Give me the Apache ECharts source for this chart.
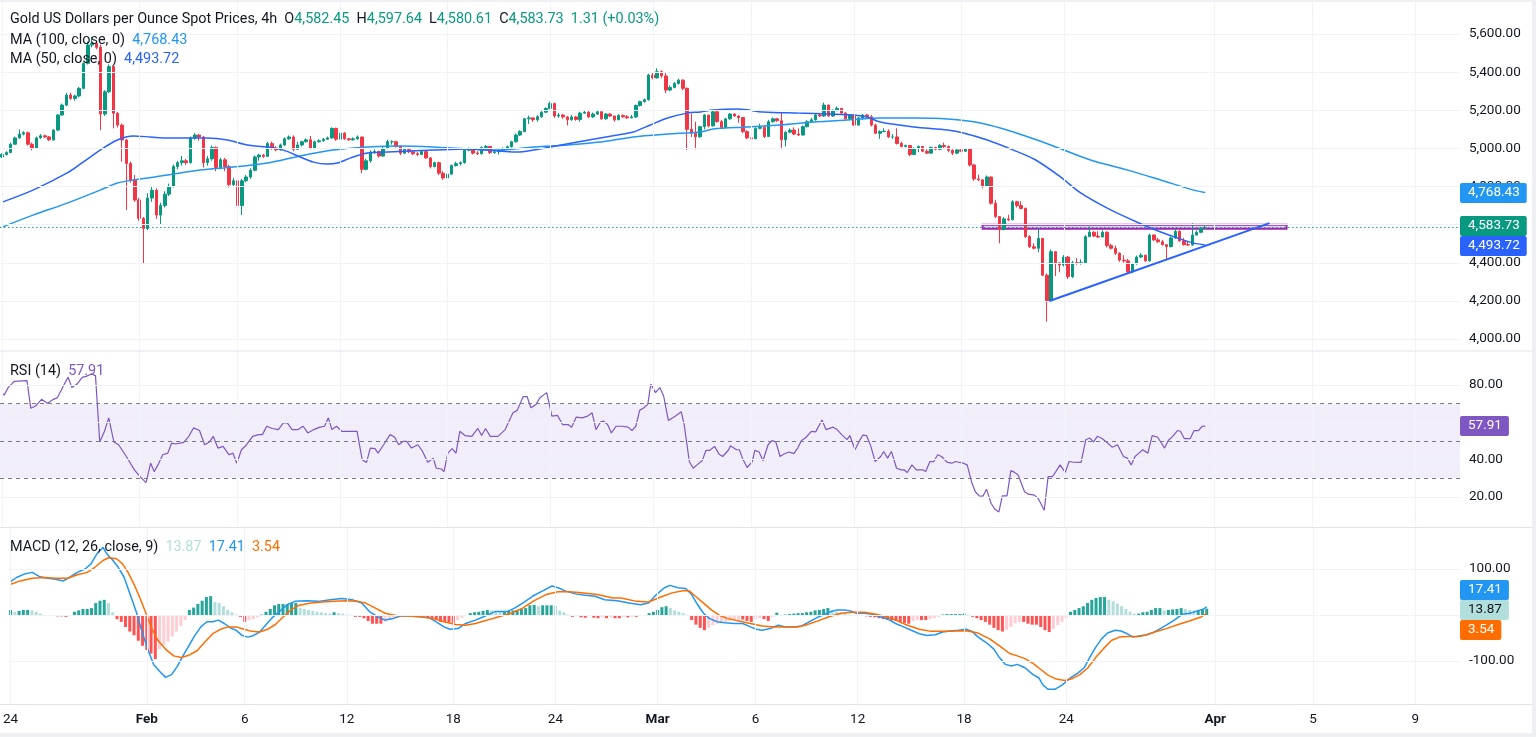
<!DOCTYPE html>
<html><head><meta charset="utf-8">
<script src="https://cdn.jsdelivr.net/npm/echarts@6/dist/echarts.min.js"></script>
<style>html,body{margin:0;padding:0;background:#fff;overflow:hidden}#c{width:1536px;height:737px}</style>
</head><body><div id="c"></div>
<script>
// ---------- DATA ----------
const firstOpen = 4955;
const closes = [
4968,4978,5022,5055,5075,5082,5022,5000,5055,5066,
5060,5045,5096,5175,5227,5280,5262,5275,5315,5446,
5542,5550,5530,5180,5297,5429,5184,5122,5044,4921,
4834,4729,4633,4580,4740,4780,4650,4700,4760,4800,
4905,4925,4935,4925,5055,5070,5060,4925,4945,5005,
4900,4940,4905,4810,4830,4700,4830,4850,4885,4955,
4965,4958,5025,5000,4992,5018,5050,5060,4995,5018,
5035,5045,5000,5035,5040,5048,5055,5105,5048,5080,
5050,5045,5050,5060,4890,4935,4980,4983,4960,5000,
5035,5035,5010,4975,4995,4982,4972,4968,4983,4950,
4905,4925,4870,4845,4865,4910,4920,4925,4990,4995,
4975,4972,5005,5010,4978,4982,4990,5000,5008,5035,
5070,5088,5155,5160,5150,5166,5190,5210,5235,5170,
5175,5165,5150,5165,5152,5185,5190,5165,5180,5192,
5155,5180,5170,5150,5172,5166,5160,5165,5225,5245,
5255,5385,5370,5402,5380,5306,5320,5340,5358,5315,
5100,5080,5061,5114,5175,5118,5192,5140,5110,5155,
5180,5170,5162,5088,5055,5050,5105,5110,5062,5140,
5155,5145,5045,5085,5096,5075,5070,5114,5140,5150,
5175,5170,5227,5170,5198,5210,5185,5155,5175,5122,
5160,5175,5166,5122,5079,5088,5090,5060,5060,5026,
5010,5015,4968,5000,5010,4985,4975,5005,4995,5015,
5010,4990,4975,4992,4985,4998,4913,4840,4835,4800,
4850,4712,4642,4575,4630,4625,4720,4700,4685,4537,
4484,4476,4528,4335,4196,4458,4400,4388,4430,4327,
4400,4397,4400,4537,4560,4540,4535,4560,4490,4476,
4450,4414,4410,4353,4395,4430,4440,4410,4545,4520,
4510,4495,4485,4530,4565,4515,4495,4493,4545,4560,
4582.45,4583.73];
const highs = [
4975,4985,5030,5062,5100,5090,5088,5030,5062,5075,
5072,5065,5100,5180,5235,5290,5292,5282,5322,5450,
5560,5585,5560,5545,5305,5440,5432,5190,5130,5050,
4930,4860,4740,4640,4765,4800,4790,4715,4775,4815,
4915,4935,4960,4945,5062,5080,5075,5065,4960,5015,
5010,4950,4950,4915,4845,4840,4840,4860,4895,4962,
4972,4970,5035,5035,5012,5025,5058,5068,5068,5035,
5040,5052,5065,5040,5048,5055,5062,5110,5108,5088,
5085,5055,5058,5068,5060,4945,4990,4995,4988,5010,
5045,5042,5040,5015,5000,5000,4990,4980,4990,4985,
4955,4930,4930,4880,4870,4915,4930,4932,4998,5005,
4998,4985,5010,5018,5012,4990,4995,5005,5015,5040,
5078,5095,5160,5172,5162,5175,5195,5215,5245,5240,
5185,5180,5170,5175,5170,5192,5200,5200,5188,5200,
5195,5185,5185,5172,5180,5178,5175,5175,5230,5250,
5262,5392,5395,5420,5410,5395,5330,5348,5365,5362,
5320,5184,5140,5118,5180,5172,5198,5195,5150,5160,
5186,5185,5172,5160,5095,5090,5110,5130,5122,5150,
5162,5160,5190,5090,5105,5110,5105,5120,5148,5160,
5180,5180,5240,5230,5205,5220,5198,5190,5180,5178,
5165,5180,5180,5175,5130,5095,5105,5100,5075,5105,
5035,5020,5015,5005,5015,5012,4995,5010,5008,5022,
5030,5015,4995,4995,5000,5002,5000,4918,4862,4838,
4858,4852,4730,4645,4640,4652,4728,4725,4722,4690,
4545,4502,4580,4530,4344,4470,4460,4400,4440,4435,
4410,4425,4418,4545,4590,4565,4565,4570,4565,4500,
4490,4455,4440,4420,4400,4438,4450,4440,4552,4550,
4530,4520,4490,4538,4575,4570,4530,4515,4607,4570,
4585,4597.64];
const lows = [
4950,4962,4975,5018,5050,5068,5015,4990,4998,5050,
5055,5038,5040,5090,5170,5222,5255,5250,5268,5310,
5440,5530,5520,5096,5170,5290,5105,5110,4930,4677,
4820,4720,4620,4397,4572,4720,4630,4600,4690,4750,
4795,4890,4910,4915,4920,5045,5040,4900,4910,4935,
4880,4890,4880,4795,4800,4690,4650,4822,4840,4880,
4935,4950,4955,4992,4985,4988,5012,5045,4985,4995,
5010,5030,4995,4995,5030,5035,5045,5050,5040,5045,
5045,5040,5040,5045,4870,4885,4925,4970,4952,4955,
4995,5020,5005,4965,4970,4975,4965,4960,4965,4945,
4895,4900,4860,4835,4840,4860,4905,4910,4920,4985,
4968,4965,4968,4995,4970,4972,4968,4985,4995,5005,
5030,5065,5085,5128,5140,5140,5160,5185,5205,5160,
5160,5155,5120,5145,5145,5140,5180,5160,5160,5175,
5150,5150,5165,5140,5148,5160,5155,5158,5160,5220,
5240,5250,5362,5365,5370,5290,5300,5315,5335,5305,
4991,5060,4995,5055,5100,5110,5115,5135,5105,5110,
5150,5165,5135,5080,5048,5045,5050,5100,5055,5065,
5135,5140,4995,5010,5080,5070,5065,5068,5110,5138,
5145,5165,5165,5165,5165,5195,5180,5150,5150,5118,
5120,5150,5160,5115,5075,5050,5085,5055,5050,5020,
5005,5005,4960,4965,4980,4980,4970,4972,4990,4990,
5000,4980,4965,4970,4980,4982,4905,4830,4828,4790,
4800,4705,4635,4502,4570,4618,4625,4690,4680,4530,
4478,4470,4455,4330,4091,4196,4330,4350,4380,4315,
4320,4390,4390,4395,4535,4535,4530,4535,4480,4470,
4440,4405,4400,4340,4345,4390,4425,4405,4405,4515,
4505,4490,4414,4480,4525,4510,4490,4488,4490,4545,
4555,4580.61];

// moving averages: [bar, price]
const ma50 = [[0,4718],[7.2,4781],[15.2,4871],[18.9,4928],[22.9,4991],[26.9,5044],[30.6,5065],[34.6,5060],[38.6,5054],[43.2,5054],[47.9,5054],[52.6,5044],[57.2,5018],[61.9,5007],[65.7,4991],[69.6,4955],[72.7,4928],[75.9,4918],[78.3,4923],[81.3,4949],[85.3,4976],[90,4981],[95.3,4986],[100.7,4991],[108.6,4997],[116.4,4986],[120.3,4981],[124.1,4991],[128,5007],[135.7,5039],[143.7,5070],[147.4,5086],[151.4,5123],[155.4,5159],[160,5185],[163.1,5191],[166.1,5201],[171.7,5206],[177.8,5191],[185.7,5185],[193.5,5180],[198.8,5175],[202.1,5164],[205.1,5138],[212.9,5112],[220.8,5096],[224.5,5081],[230.1,5044],[236.2,4991],[241.4,4939],[247.2,4850],[251.9,4766],[258.9,4677],[266.6,4598],[270.6,4561],[274.5,4530],[278.3,4503],[281,4493.72]];
const ma100 = [[0,4587],[7.2,4650],[15.2,4713],[22.9,4781],[26.9,4818],[30.6,4834],[38.6,4860],[46.3,4886],[54,4902],[61.9,4923],[69.6,4960],[77.3,4991],[85.3,5007],[93,5012],[100.7,5007],[108.6,4997],[116.4,4991],[124.1,5007],[132,5018],[139.7,5033],[147.4,5060],[155.4,5075],[163.1,5086],[166.1,5102],[174.1,5112],[181.8,5123],[189.5,5138],[197.4,5149],[205.1,5159],[212.9,5159],[220.8,5154],[228.5,5133],[236.2,5086],[244.9,5018],[254.2,4939],[262.9,4886],[270.6,4834],[278.3,4781],[281,4768.43]];

const rsi = [[0,75.4],[0.5,74.7],[1.4,78.6],[2.8,81.9],[5.8,82.3],[6.7,67.5],[7.8,68.7],[9.2,72.3],[10.6,70.2],[12,72.3],[12.9,73.2],[14.3,79.5],[15.4,84.1],[16.3,78.6],[17.5,80.5],[18.7,84.1],[19.6,84.6],[20.9,85.9],[21.8,85],[22.8,49.5],[23.9,55.2],[24.9,62.4],[26.1,49.5],[27.2,48],[29,41.7],[30.9,34.5],[32.2,30.9],[33.6,27.7],[34.7,38.1],[35.5,33.6],[36.4,37.2],[37.5,42.6],[38.7,43.5],[39.6,48.9],[40.5,48.4],[42.4,49.3],[43.6,52.5],[44.7,57],[46.1,55.6],[47.3,48],[48.4,49.5],[49.3,52.5],[50.4,46.2],[51.6,47.1],[53,42.6],[53.9,43.5],[54.8,38.1],[55.9,45.3],[57.1,48],[58.5,52.5],[59.9,53.4],[60.8,53.4],[61.8,57.9],[63.1,56.7],[64.5,56.1],[65.7,59.7],[66.6,59.7],[67.7,56.1],[69.1,56.1],[70.3,57.9],[71.4,54.3],[72.8,56.1],[74.2,57.4],[75.3,57.9],[76.2,62.4],[77,56.1],[78.1,57.9],[79.3,55.2],[81.1,55.2],[82.9,55.2],[84.1,39.9],[85.1,38.5],[86,46.2],[87.1,45.9],[87.8,43.5],[89.1,48],[90.6,53.4],[91.7,52],[92.6,48],[93.7,49.8],[94.5,49.8],[95.6,46.2],[97.1,48],[98.2,44.4],[99.4,38.6],[100.7,40.8],[101.4,35.4],[102.6,35],[103.2,33.6],[104.1,43.5],[105.1,45.9],[106,43.5],[106.9,55.2],[108.1,52.9],[109.7,52.5],[111.1,56.7],[112,52.9],[112.9,56.7],[114,52.5],[115.8,52.5],[117.5,56.1],[119.3,65.1],[120.3,66.4],[121.7,73.8],[122.6,73.8],[123.5,67.8],[124.7,69.6],[125.6,73.2],[127.2,75.9],[128.4,63.3],[129.7,63.7],[130.9,58.8],[132.2,58.8],[133,57.4],[134.1,62.8],[135.5,62.4],[136.7,63.3],[137.8,65.1],[138.7,56.1],[139.8,60.3],[140.5,60.6],[141.4,58.8],[142.3,54.3],[143.4,57.9],[144.8,57.9],[146.2,57.4],[147.1,55.6],[148,57.9],[148.9,66.4],[149.9,67.8],[150.8,69.6],[151.5,80.5],[152.6,75.9],[153.6,78.6],[154.5,74.1],[155.6,61],[157.2,63.3],[158.6,65.7],[159.3,58.8],[160.5,39],[161.4,35.4],[162.3,37.2],[163.5,39.4],[164.4,45],[165.3,45],[166.4,47.1],[167.4,43],[168.3,41.7],[169.7,45.3],[170.1,47.5],[171.5,45.3],[172.2,45.3],[172.9,40.8],[174,35.8],[175.2,39],[175.8,45],[176.8,44.1],[177.7,39.4],[178.9,48],[179.8,50.2],[180.7,49.5],[181.7,41.7],[182.6,43],[183.8,44.1],[184.9,43.2],[185.8,46.2],[186.7,50.2],[187.6,51.6],[189,55.2],[190,54.9],[191.5,61.2],[192.4,56.1],[194.1,57.4],[195,56.1],[196.1,53.4],[197.3,50.7],[198,52.9],[199.2,45.3],[200.1,49.5],[201,53.1],[201.9,52.9],[202.9,47.1],[203.9,39],[205.2,41.7],[205.9,44.4],[206.8,40.8],[207.7,44.4],[208.9,35.4],[210,34.5],[210.7,34.5],[211.4,33.1],[212.5,37.2],[213.5,34.5],[215.1,34.5],[215.7,33.6],[216.7,39],[217.6,39],[218.5,42.6],[219.4,41.7],[220.8,38.5],[221.8,38.1],[222.7,39],[223.6,38.5],[224.5,38.1],[225.4,37.2],[226.4,28.2],[227.3,22.8],[228.2,20.6],[229.1,20.5],[229.9,24.2],[231,16.5],[231.9,13.4],[232.8,12],[233.6,20.6],[234.7,20.6],[235.6,34.1],[236.5,33.2],[237.3,31.8],[238.8,22.8],[239.7,21.5],[241.1,21],[242,19.2],[243.4,12.9],[244.3,30.9],[245.3,30.9],[245.7,32.2],[247.1,37.2],[248.3,33.2],[249.2,39],[250.3,38.6],[252,38.5],[253.1,50.7],[254,51.6],[254.9,49.5],[255.8,52.5],[256.9,51.3],[258.2,48.9],[259.3,46.6],[260.5,48],[261.9,41.7],[262.8,40.8],[263.7,37.2],[264.6,41.7],[265.5,43.5],[266.4,45.3],[267.6,43.5],[268.6,52.9],[269.9,52],[271.5,46.2],[272.4,50.4],[273.4,52.5],[274.5,55.6],[275.2,55.2],[276.1,51.3],[277.5,51.3],[278.4,55.6],[279.4,55.6],[280.3,57.9],[281,57.91]];

const macd = [[0,72.6],[1.4,81.5],[3.2,88.9],[5.1,92.6],[6.9,83],[8.7,80],[10.6,77.8],[12.4,74.1],[13.8,81.5],[15.7,92.6],[17.5,100],[18.9,111.1],[20.3,133.3],[21.7,146.7],[22.6,133.3],[23.9,120],[25.3,103.7],[26.7,81.5],[28.1,44.4],[29.5,7.4],[30.9,-37],[32.2,-74.1],[33.6,-107.4],[35,-122.2],[36.4,-135.6],[37.8,-129.6],[39.2,-111.1],[40.5,-88.9],[41.9,-66.7],[43.3,-44.4],[44.7,-25.9],[46.1,-14.8],[47.5,-14.8],[48.8,-11.1],[50.2,-18.5],[51.6,-28.1],[53,-33.3],[54.4,-44.4],[55.8,-48.1],[57.1,-44.4],[58.5,-37],[59.9,-22.2],[61.3,-7.4],[63.1,7.4],[65,22.2],[66.8,29.6],[69.6,31.1],[72.3,29.6],[75.1,33.3],[77.9,35.6],[80.2,33.3],[82.5,25.9],[84.3,7.4],[86.2,-3.7],[88,-11.1],[89.9,-7.4],[91.7,-2.2],[93.6,-2.2],[96.3,-3.7],[98.2,-5.2],[100,-14.8],[101.8,-25.9],[103.2,-31.1],[105.1,-29.6],[106.9,-18.5],[109.2,-11.1],[111.1,-3.7],[113.8,7.4],[116.6,7.4],[118.4,14.8],[120.3,25.9],[122.6,40.7],[124.9,51.9],[127.2,63],[128.6,59.3],[130.4,51.9],[132.7,45.9],[135,43],[137.3,40.7],[139.6,33.3],[142.5,31.1],[145.3,25.9],[148,22.2],[149.9,25.9],[151.7,44.4],[153.6,59.3],[154.9,64.4],[156.8,59.3],[158.6,57.8],[160,44.4],[161.4,22.2],[162.8,3.7],[164.1,-7.4],[166,-14.8],[167.8,-17],[170.1,-18.5],[172,-18.5],[173.8,-25.9],[175.2,-31.1],[176.6,-33.3],[178.4,-29.6],[180.3,-22.2],[182.1,-25.9],[183.9,-25.9],[185.8,-23.7],[187.6,-14.8],[189.9,-3.7],[192.3,5.9],[194.1,11.1],[195.9,11.1],[197.3,8.9],[198.7,3.7],[200.6,3.7],[202.4,1.5],[204.2,-3.7],[206.1,-8.9],[207.9,-18.5],[209.8,-25.9],[211.6,-33.3],[213.5,-40.7],[215.3,-44.4],[217.2,-43],[219,-37],[220.8,-34.8],[222.7,-33.3],[224.5,-31.1],[225.9,-35.6],[227.3,-48.1],[229.1,-59.3],[231,-74.1],[232.3,-92.6],[233.7,-107.4],[235.1,-111.1],[236.5,-107.4],[238.3,-114.8],[240.2,-129.6],[241.6,-137],[242.5,-151.9],[243.7,-161.5],[245.3,-161.5],[247.1,-151.9],[248.9,-137],[250.8,-125.9],[252.2,-114.8],[253.5,-92.6],[254.9,-70.4],[256.3,-51.9],[257.7,-39.3],[259.5,-33.3],[260.9,-34.8],[262.3,-40.7],[263.7,-48.1],[265.1,-45.9],[266.9,-43],[268.3,-38.5],[269.7,-31.9],[271.5,-22.2],[273.4,-11.1],[275.2,1.5],[277.1,3.7],[278.9,8.9],[280.3,13.3],[281,17.41]];

const signal = [[0,66.7],[2.3,74.1],[5.1,80],[7.8,81.5],[10.6,80],[13.4,80],[15.7,87.4],[18,92.6],[19.8,103.7],[21.7,118.5],[23,124.4],[24.9,122.2],[26.3,111.1],[27.6,92.6],[29,66.7],[30.4,37],[31.8,3.7],[33.2,-29.6],[34.6,-55.6],[36.4,-74.1],[38.3,-88.9],[40.1,-92.6],[41.9,-87.4],[43.8,-77.8],[45.6,-59.3],[47.5,-40.7],[49.3,-31.1],[51.1,-25.9],[53,-25.9],[54.8,-31.1],[56.7,-35.6],[58.5,-37],[60.4,-31.1],[62.2,-20.7],[64.1,-3.7],[65.9,11.1],[67.7,20.7],[70.5,25.9],[73.3,28.1],[76,29.6],[78.8,31.1],[81.6,29.6],[83.4,25.9],[85.7,14.8],[88,3.7],[90.8,-1.5],[93.6,-2.2],[96.3,-3.7],[99.1,-7.4],[101.8,-14.8],[104.6,-20.7],[106.9,-22.2],[109.2,-18.5],[112,-11.1],[114.7,-3.7],[117.5,3.7],[120.3,14.8],[123,31.1],[125.8,44.4],[128.6,50.4],[131.3,50.4],[134.1,48.1],[137.8,44.4],[141.5,37],[143.4,37],[147.1,29.6],[149.9,28.1],[152.6,38.5],[155.4,48.1],[158.2,53.3],[159.5,51.9],[160.9,40.7],[162.8,25.9],[164.6,11.1],[166.4,0],[168.3,-7.4],[171.1,-13.3],[173.8,-18.5],[176.6,-23.7],[179.4,-25.9],[182.1,-25.9],[184.9,-25.9],[186.7,-22.2],[189.5,-13.3],[192.3,-3.7],[195,3.7],[197.8,5.9],[200.6,5.9],[203.3,1.5],[205.2,-2.2],[207.9,-11.1],[210.7,-22.2],[213.5,-31.1],[216.2,-35.6],[219,-35.6],[221.8,-34.8],[224.5,-34.1],[227.3,-39.3],[230,-51.9],[232.8,-70.4],[234.7,-83.7],[236.5,-88.9],[238.3,-94.8],[240.2,-105.2],[242,-118.5],[243.9,-131.9],[245.7,-139.3],[247.6,-142.2],[249.4,-138.5],[251.2,-129.6],[253.1,-114.8],[254.9,-92.6],[256.8,-72.6],[258.6,-55.6],[260.5,-48.1],[262.3,-46.7],[265.1,-46.7],[266.9,-43],[268.8,-37],[271.5,-29.6],[274.3,-20.7],[277.1,-12.6],[279.8,-3.7],[281,3.54]];

const hist = [
11,7,9,11,11,10,7,3,-1,-2,
-2,-3,-3,-4,-1,7,10,13,13,15,
26,31,33,26,6,-9,-15,-26,-36,-44,
-56,-67,-76,-84,-96,-74,-65,-58,-47,-36,
-24,-11,11,16,24,31,39,41,28,26,
19,11,6,1,-4,-15,-11,-9,-5,1,
7,13,21,24,24,24,26,26,16,13,
11,9,7,6,4,3,6,4,3,1,
-1,-4,-4,-7,-13,-19,-19,-19,-15,-11,
-7,-4,-1,-1,0,-1,-1,-3,-5,-7,
-11,-15,-15,-16,-17,-11,-6,-1,4,6,
7,9,11,10,9,7,7,9,10,11,
13,15,21,22,19,21,21,21,20,10,
6,1,-4,-1,-5,-6,-1,-6,-7,-4,
-7,-5,-7,-7,-4,-5,-4,-4,-2,0,
4,7,11,17,19,15,10,7,4,1,
-11,-21,-28,-33,-28,-22,-19,-16,-15,-13,
-11,-10,-10,-13,-15,-9,-7,-9,-13,-4,
5,1,1,2,3,4,4,6,7,10,
11,13,15,11,8,5,4,1,0,-1,
-2,-3,-4,-5,-7,-9,-11,-12,-13,-15,
-17,-19,-13,-11,-11,-11,-9,-7,-4,1,
2,2,2,2,3,1,-4,-7,-11,-15,
-21,-28,-33,-36,-32,-26,-18,-15,-15,-19,
-21,-21,-26,-33,-37,-30,-22,-15,-7,7,
11,15,19,26,33,37,39,39,33,30,
25,19,13,7,3,3,6,7,11,15,
15,10,11,12,13,15,13,11,10,11,
13,13.87];

const xTickPos   = [0,32,55,79,104,128,152,175,199,224,248,283,306,330];
const xTickNames = ['24','Feb','6','12','18','24','Mar','6','12','18','24','Apr','5','9'];
const monthNames = ['Feb','Mar','Apr'];
const priceTicks = [4000,4200,4400,4600,4800,5000,5200,5400,5600];
const rsiLabelTicks = [20,40,80];
const rsiGridTicks = [20,40,60,80];
const rsiBands = [30,50,70];
const macdLabelTicks = [-100,100];
const macdGridTicks = [-100,0,100];
const trendLine = [[244.6,4199],[296,4608]];
const resistanceZone = [[229,4600],[300,4578]];
const lastOHLC = {o:4582.45,h:4597.64,l:4580.61,c:4583.73,chg:1.31,pct:0.03};
const lastMA100 = 4768.43, lastMA50 = 4493.72, lastRSI = 57.91;
const lastMACD = 17.41, lastSignal = 3.54, lastHist = 13.87;

// ---------- CHART ----------
const FONT = 'Roboto, "Noto Sans", sans-serif';
const TXT = '#131722';
const C_UP = '#089981', C_DN = '#f23645';
const C_MA100 = '#2196f3', C_MA50 = '#2962ff', C_RSI = '#7e57c2';
const C_MACD = '#2196f3', C_SIG = '#ff6d00';
const GRIDC = '#f0f3fa';
const AX_FS = 13.5;
const fmt2 = v => Number(v).toLocaleString('en-US',{minimumFractionDigits:2,maximumFractionDigits:2});

const chart = echarts.init(document.getElementById('c'));

const candleData = closes.map((c,i)=>{
  const o = i ? closes[i-1] : firstOpen;
  return [i, o, c, Math.min(lows[i],o,c), Math.max(highs[i],o,c)];
});
const histData = hist.map((v,i)=>{
  const p = i ? hist[i-1] : v;
  let col;
  if (v >= 0) col = v >= p ? '#26a69a' : '#b2dfdb';
  else col = v <= p ? '#ff5252' : '#ffcdd2';
  return {value:[i,v], itemStyle:{color:col}};
});

const grids = [
  {left:0,right:76,top:0,height:350},
  {left:0,right:76,top:351,height:176},
  {left:0,right:76,top:528,height:176}
];
const xBase = {type:'value',min:-0.5,max:340.5,splitLine:{show:false},axisLine:{show:false},axisTick:{show:false},axisLabel:{show:false}};
const yLabel = (vals, f) => ({customValues:vals, formatter:f, color:TXT, fontSize:AX_FS, margin:9, fontFamily:FONT});
const yBase = {type:'value',position:'right',splitLine:{show:false},axisLine:{show:false},axisTick:{show:false}};

const gridLineSeries = (idx, yVals) => ({
  type:'line', xAxisIndex:idx, yAxisIndex:idx, data:[], silent:true, z:0,
  markLine:{silent:true, symbol:['none','none'], animation:false, label:{show:false},
    lineStyle:{color:GRIDC,width:1,type:'solid'}, emphasis:{disabled:true},
    data:[...yVals.map(v=>({yAxis:v})), ...xTickPos.map(v=>({xAxis:v}))]}
});

chart.setOption({
  animation:false,
  backgroundColor:'#ffffff',
  grid:grids,
  xAxis:[
    Object.assign({},xBase,{gridIndex:0}),
    Object.assign({},xBase,{gridIndex:1}),
    Object.assign({},xBase,{gridIndex:2,axisLabel:{show:true,customValues:xTickPos,margin:9,color:TXT,fontSize:AX_FS,fontFamily:FONT,
      formatter:v=>{const k=xTickPos.indexOf(Math.round(v)); const n=k>=0?xTickNames[k]:''; return monthNames.includes(n)?'{b|'+n+'}':n;},
      rich:{b:{fontWeight:'bold',fontSize:AX_FS,color:TXT,fontFamily:FONT}}}})
  ],
  yAxis:[
    Object.assign({},yBase,{gridIndex:0,min:3942.3,max:5778.4,axisLabel:yLabel(priceTicks,fmt2)}),
    Object.assign({},yBase,{gridIndex:1,min:3.93,max:98.2,axisLabel:yLabel(rsiLabelTicks,fmt2)}),
    Object.assign({},yBase,{gridIndex:2,min:-193.5,max:189.1,axisLabel:yLabel(macdLabelTicks,fmt2)})
  ],
  series:[
    gridLineSeries(0, priceTicks),
    gridLineSeries(1, rsiGridTicks),
    gridLineSeries(2, macdGridTicks),
    {type:'candlestick', name:'Gold', xAxisIndex:0, yAxisIndex:0, data:candleData, barWidth:3, z:3,
      itemStyle:{color:C_UP,color0:C_DN,borderColor:C_UP,borderColor0:C_DN,borderWidth:1},
      markLine:{silent:true,symbol:['none','none'],label:{show:false},animation:false,
        lineStyle:{color:'#089981',type:[1.5,2.5],width:1.2,opacity:0.9},data:[{yAxis:lastOHLC.c}]},
      markArea:{silent:true,animation:false,itemStyle:{color:'rgba(156,39,176,0.22)',borderColor:'#9c27b0',borderWidth:2},
        data:[[{coord:resistanceZone[0]},{coord:resistanceZone[1]}]]}
    },
    {type:'line',name:'MA100',xAxisIndex:0,yAxisIndex:0,data:ma100,showSymbol:false,smooth:0.3,silent:true,z:4,
      lineStyle:{color:C_MA100,width:1.5}},
    {type:'line',name:'MA50',xAxisIndex:0,yAxisIndex:0,data:ma50,showSymbol:false,smooth:0.3,silent:true,z:4,
      lineStyle:{color:C_MA50,width:1.5}},
    {type:'line',name:'Trend',xAxisIndex:0,yAxisIndex:0,data:trendLine,showSymbol:false,silent:true,z:5,
      lineStyle:{color:'#2962ff',width:2}},
    {type:'line',name:'RSI',xAxisIndex:1,yAxisIndex:1,data:rsi,showSymbol:false,silent:true,z:4,
      lineStyle:{color:C_RSI,width:1.2},
      markArea:{silent:true,animation:false,itemStyle:{color:'rgba(126,87,194,0.1)'},data:[[{yAxis:rsiBands[0]},{yAxis:rsiBands[2]}]]},
      markLine:{silent:true,symbol:['none','none'],label:{show:false},animation:false,
        lineStyle:{color:'#787b86',type:[4,4],width:1},data:rsiBands.map(v=>({yAxis:v}))}
    },
    {type:'bar',name:'Hist',xAxisIndex:2,yAxisIndex:2,data:histData,barWidth:3,silent:true,z:3},
    {type:'line',name:'MACD',xAxisIndex:2,yAxisIndex:2,data:macd,showSymbol:false,silent:true,z:4,
      lineStyle:{color:C_MACD,width:1.5}},
    {type:'line',name:'Signal',xAxisIndex:2,yAxisIndex:2,data:signal,showSymbol:false,silent:true,z:4,
      lineStyle:{color:C_SIG,width:1.5}}
  ]
});

// ---------- TEXTS & BADGES ----------
const measure = (() => { const cv=document.createElement('canvas').getContext('2d'); return (t,f)=>{cv.font=f; return cv.measureText(t).width;}; })();
const FB = AX_FS + 'px ' + FONT;
const legendFont = '14.4px ' + FONT;

function badgeGroup(list){
  const H = 20;
  for (let it=0; it<60; it++){
    for (let k=1;k<list.length;k++){
      const d = list[k].y - list[k-1].y;
      if (d < H){ const s=(H-d)/2; list[k-1].y -= s; list[k].y += s; }
    }
  }
  return list;
}
const mk = (axis,val,txt,bg,fg) => ({y:chart.convertToPixel({yAxisIndex:axis},val), txt, bg, fg});
const badges = [
  ...badgeGroup([mk(0,lastMA100,fmt2(lastMA100),C_MA100,'#fff'), mk(0,lastOHLC.c,fmt2(lastOHLC.c),C_UP,'#fff'), mk(0,lastMA50,fmt2(lastMA50),C_MA50,'#fff')]),
  ...badgeGroup([mk(1,lastRSI,fmt2(lastRSI),C_RSI,'#fff')]),
  ...badgeGroup([mk(2,lastMACD,fmt2(lastMACD),C_MACD,'#fff'), mk(2,lastHist,fmt2(lastHist),'#b2dfdb',TXT), mk(2,lastSignal,fmt2(lastSignal),C_SIG,'#fff')])
];
const graphics = [];
badges.forEach(b=>{
  const w = measure(b.txt, FB) + 15;
  graphics.push({type:'rect', z:100, shape:{x:1460,y:Math.round(b.y)-10,width:w,height:20,r:2}, style:{fill:b.bg}});
  graphics.push({type:'text', z:101, x:1468, y:Math.round(b.y), style:{text:b.txt, fill:b.fg, font:FB, verticalAlign:'middle'}});
});
[351, 527.5, 704.5].forEach(y=>graphics.push({type:'line', z:50, shape:{x1:0,y1:y,x2:1536,y2:y}, style:{stroke:'#e0e3eb',lineWidth:1}}));
graphics.push({type:'rect', z:50, shape:{x:0,y:733,width:1536,height:4}, style:{fill:'#eef0f4'}});
graphics.push({type:'rect', z:50, shape:{x:1532,y:0,width:4,height:737}, style:{fill:'#eef0f4'}});
graphics.push({type:'rect', z:50, shape:{x:0,y:0,width:1536,height:2}, style:{fill:'#eef0f4'}});
graphics.push({type:'text', z:60, x:10, y:19, style:{font:legendFont, fill:TXT, verticalAlign:'middle',
  text:'Gold US Dollars per Ounce Spot Prices, 4h  O{v|'+fmt2(lastOHLC.o)+'}  H{v|'+fmt2(lastOHLC.h)+'}  L{v|'+fmt2(lastOHLC.l)+'}  C{v|'+fmt2(lastOHLC.c)+'}  {v|'+lastOHLC.chg.toFixed(2)+' (+'+lastOHLC.pct.toFixed(2)+'%)}',
  rich:{v:{fill:C_UP,font:legendFont}}}});
graphics.push({type:'text', z:60, x:10, y:40, style:{font:legendFont, fill:TXT, verticalAlign:'middle',
  text:'MA (100, close, 0)  {v|'+fmt2(lastMA100)+'}', rich:{v:{fill:C_MA100,font:legendFont}}}});
graphics.push({type:'text', z:60, x:10, y:59, style:{font:legendFont, fill:TXT, verticalAlign:'middle',
  text:'MA (50, close, 0)  {v|'+fmt2(lastMA50)+'}', rich:{v:{fill:C_MA50,font:legendFont}}}});
graphics.push({type:'text', z:60, x:10, y:371, style:{font:legendFont, fill:TXT, verticalAlign:'middle',
  text:'RSI (14)  {v|'+fmt2(lastRSI)+'}', rich:{v:{fill:C_RSI,font:legendFont}}}});
graphics.push({type:'text', z:60, x:10, y:547, style:{font:legendFont, fill:TXT, verticalAlign:'middle',
  text:'MACD (12, 26, close, 9)  {h|'+fmt2(lastHist)+'}  {m|'+fmt2(lastMACD)+'}  {s|'+fmt2(lastSignal)+'}',
  rich:{h:{fill:'#b2dfdb',font:legendFont},m:{fill:C_MACD,font:legendFont},s:{fill:C_SIG,font:legendFont}}}});
chart.setOption({graphic:graphics});
</script>
</body></html>
